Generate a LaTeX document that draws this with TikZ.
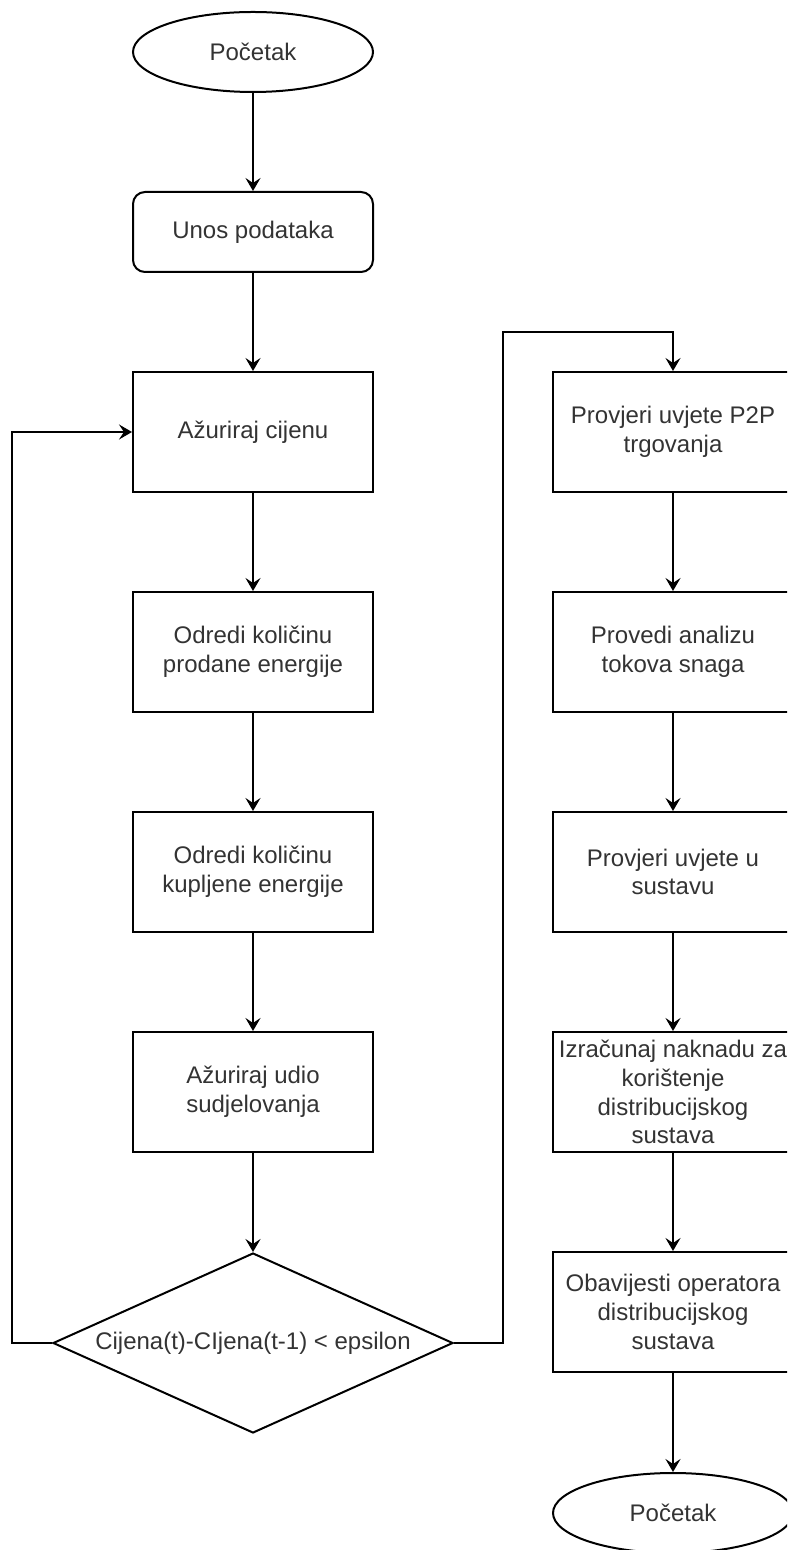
\documentclass[tikz,border=0pt]{standalone}
\usepackage{fontspec}
\setmainfont{Liberation Sans}
\usetikzlibrary{shapes.geometric,arrows.meta}

\begin{document}
\begin{tikzpicture}[x=0.5pt,y=-0.5pt,
    every node/.style={font=\fontsize{12}{14.4}\selectfont, text=black!80, align=center},
    box/.style={draw=black, line width=1pt, minimum width=120pt, minimum height=60pt, inner sep=0pt},
    terminal/.style={ellipse, draw=black, line width=1pt, minimum width=120pt, minimum height=40pt, inner sep=0pt},
    decision/.style={diamond, draw=black, line width=1pt, minimum width=200pt, minimum height=90pt, inner sep=0pt},
    flow/.style={-{Stealth[length=6.5pt,width=7.5pt,inset=2.5pt]}, line width=1pt}]
                \clip (0,0) rectangle (787,1550);
                % left column
                \node[terminal] (start) at (253,52) {Početak};
                \node[box, rounded corners=6pt, minimum height=40pt] (input) at (253,232) {Unos podataka};
                \node[box] (price) at (253,432) {Ažuriraj cijenu};
                \node[box] (sold) at (253,652) {Odredi količinu\\prodane energije};
                \node[box] (bought) at (253,872) {Odredi količinu\\kupljene energije};
                \node[box] (share) at (253,1092) {Ažuriraj udio\\sudjelovanja};
                \node[decision] (check) at (253,1343) {\makebox[0pt]{Cijena(t)-CIjena(t-1) < epsilon}};
                % right column
                \node[box] (p2p) at (673,432) {Provjeri uvjete P2P\\trgovanja};
                \node[box] (flowan) at (673,652) {Provedi analizu\\tokova snaga};
                \node[box] (system) at (673,872) {Provjeri uvjete u\\sustavu};
                \node[box] (fee) at (673,1092) {Izračunaj naknadu za\\korištenje\\distribucijskog\\sustava};
                \node[box] (notify) at (673,1312) {Obavijesti operatora\\distribucijskog\\sustava};
                \node[terminal] (stop) at (673,1513) {Početak};
                \coordinate (jump) at (503,332);
                % connectors
                \draw[flow] (start) -- (input);
                \draw[flow] (input) -- (price);
                \draw[flow] (price) -- (sold);
                \draw[flow] (sold) -- (bought);
                \draw[flow] (bought) -- (share);
                \draw[flow] (share) -- (check);
                \draw[flow] (check.west) -- ++(-40,0) |- (price.west);
                \draw[flow] (check.east) -| (jump) -| (p2p.north);
                \draw[flow] (p2p) -- (flowan);
                \draw[flow] (flowan) -- (system);
                \draw[flow] (system) -- (fee);
                \draw[flow] (fee) -- (notify);
                \draw[flow] (notify) -- (stop);
            \end{tikzpicture}
\end{document}
